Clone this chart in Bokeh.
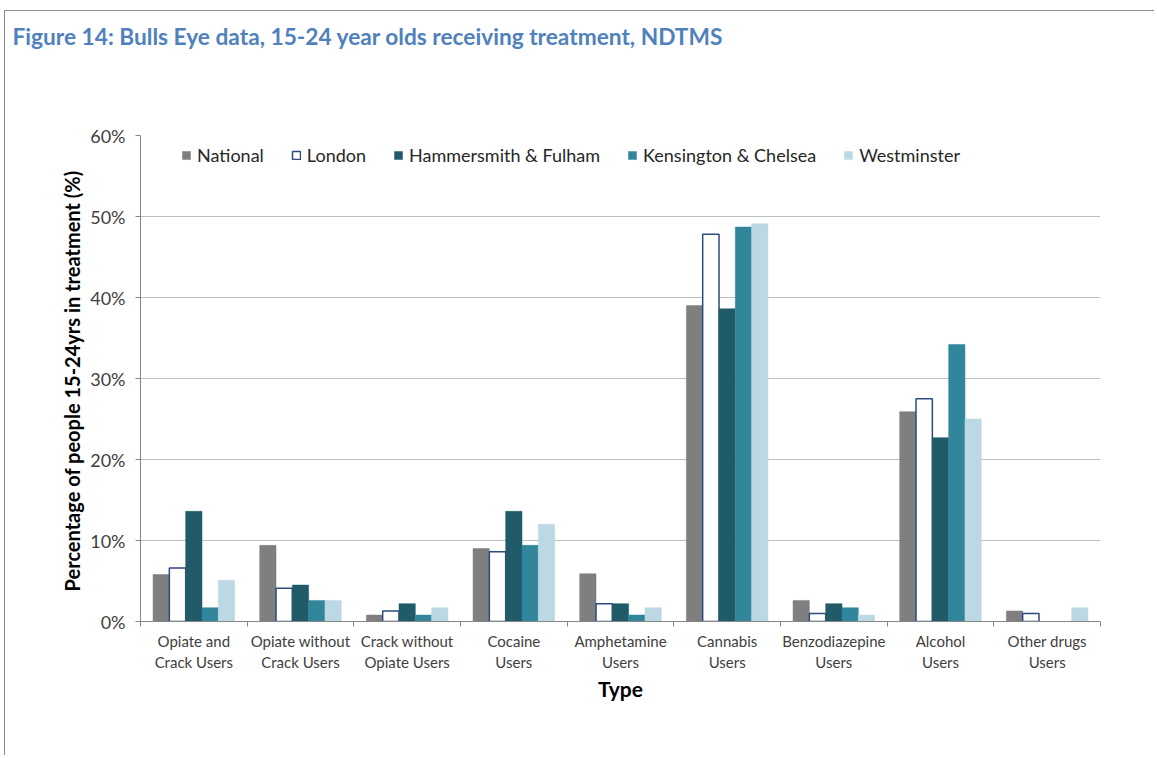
from bokeh.plotting import figure
from bokeh.models import (ColumnDataSource, FixedTicker, PrintfTickFormatter, Legend,
                          LegendItem, Range1d, Title)
from bokeh.embed import file_html
from bokeh.resources import INLINE

categories = ["Opiate and\nCrack Users", "Opiate without\nCrack Users", "Crack without\nOpiate Users",
              "Cocaine\nUsers", "Amphetamine\nUsers", "Cannabis\nUsers", "Benzodiazepine\nUsers",
              "Alcohol\nUsers", "Other drugs\nUsers"]
series_names = ["National", "London", "Hammersmith & Fulham", "Kensington & Chelsea", "Westminster"]
national = [5.8, 9.4, 0.8, 9.0, 5.9, 39.0, 2.6, 25.9, 1.3]
london = [6.6, 4.1, 1.3, 8.6, 2.2, 47.8, 1.0, 27.5, 1.0]
hammersmith = [13.6, 4.5, 2.2, 13.6, 2.2, 38.6, 2.2, 22.7, 0.0]
kensington = [1.7, 2.6, 0.8, 9.4, 0.8, 48.7, 1.7, 34.2, 0.0]
westminster = [5.1, 2.6, 1.7, 12.0, 1.7, 49.1, 0.8, 25.0, 1.7]
y_ticks = [0, 10, 20, 30, 40, 50, 60]
title_text = "Figure 14: Bulls Eye data, 15-24 year olds receiving treatment, NDTMS"

FONT = "Lato"
fills = ["#7F7F7F", "#FFFFFF", "#215A69", "#31869B", "#BCD8E4"]
lines = ["#7F7F7F", "#2F4A7E", "#215A69", "#31869B", "#BCD8E4"]
series = [national, london, hammersmith, kensington, westminster]

W, H = 1150, 745
p = figure(width=W, height=H, output_backend="svg", toolbar_location=None,
           x_range=Range1d(0, len(categories)), y_range=Range1d(0, 60),
           min_border_left=135, min_border_right=55, min_border_top=124, min_border_bottom=135)
p.outline_line_color = None
p.background_fill_color = "white"
p.border_fill_color = "white"
p.styles = {"border-left": "1px solid #8c8c8c", "border-top": "1px solid #8c8c8c",
            "margin-left": "4px", "margin-top": "10px"}

# trailing blank lines push the title up to the top of the page area
p.title = Title(text=title_text + "\n\n\n",
                text_font=FONT, text_font_style="bold", text_font_size="22.7px",
                text_color="#4F81BD", align="left", offset=-128, standoff=9)

bw = 0.153
xs = [i + 0.5 for i in range(len(categories))]
items = []
for j, (name, vals) in enumerate(zip(series_names, series)):
    src = ColumnDataSource(dict(x=[x + (j - 2) * bw for x in xs], top=vals))
    r = p.vbar(x="x", top="top", width=bw, source=src, fill_color=fills[j],
               line_color=lines[j], line_width=1.5 if j == 1 else 0.5)
    items.append(LegendItem(label=name, renderers=[r]))

legend = Legend(items=items, orientation="horizontal", location=(41, 455),
                label_text_font=FONT, label_text_font_size="18px", label_text_color="#262626",
                glyph_width=10, glyph_height=10, label_standoff=6, spacing=27,
                padding=0, margin=0, background_fill_alpha=0, border_line_alpha=0,
                label_height=20)
p.add_layout(legend, "center")

# axes
p.xaxis.ticker = FixedTicker(ticks=xs, minor_ticks=list(range(len(categories) + 1)))
p.xaxis.major_label_overrides = {x: c for x, c in zip(xs, categories)}
p.xaxis.major_tick_out = 0
p.xaxis.major_tick_in = 0
p.xaxis.minor_tick_out = 5
p.xaxis.minor_tick_in = 0
p.xaxis.minor_tick_line_color = "#868686"
p.xaxis.axis_line_color = "#868686"
p.xaxis.major_label_text_font = FONT
p.xaxis.major_label_text_font_size = "15px"
p.xaxis.major_label_text_color = "#404040"
p.xaxis.major_label_standoff = 5
p.xaxis.axis_label = "Type"
p.xaxis.axis_label_text_font = FONT
p.xaxis.axis_label_text_font_style = "bold"
p.xaxis.axis_label_text_font_size = "21px"
p.xaxis.axis_label_text_color = "#000000"
p.xaxis.axis_label_standoff = 2

p.yaxis.ticker = FixedTicker(ticks=y_ticks)
p.yaxis.formatter = PrintfTickFormatter(format="%d%%")
p.yaxis.major_tick_out = 5
p.yaxis.major_tick_in = 0
p.yaxis.minor_tick_line_color = None
p.yaxis.major_tick_line_color = "#868686"
p.yaxis.axis_line_color = "#868686"
p.yaxis.major_label_text_font = FONT
p.yaxis.major_label_text_font_size = "18px"
p.yaxis.major_label_text_color = "#404040"
p.yaxis.major_label_standoff = 10
p.yaxis.axis_label = "Percentage of people  15-24yrs in treatment (%)"
p.yaxis.axis_label_text_font = FONT
p.yaxis.axis_label_text_font_style = "bold"
p.yaxis.axis_label_text_font_size = "20px"
p.yaxis.axis_label_text_color = "#000000"
p.yaxis.axis_label_standoff = 3

p.xgrid.grid_line_color = None
p.ygrid.grid_line_color = "#BFBFBF"
p.ygrid.grid_line_width = 1

open("out.html", "w").write(file_html(p, INLINE))
